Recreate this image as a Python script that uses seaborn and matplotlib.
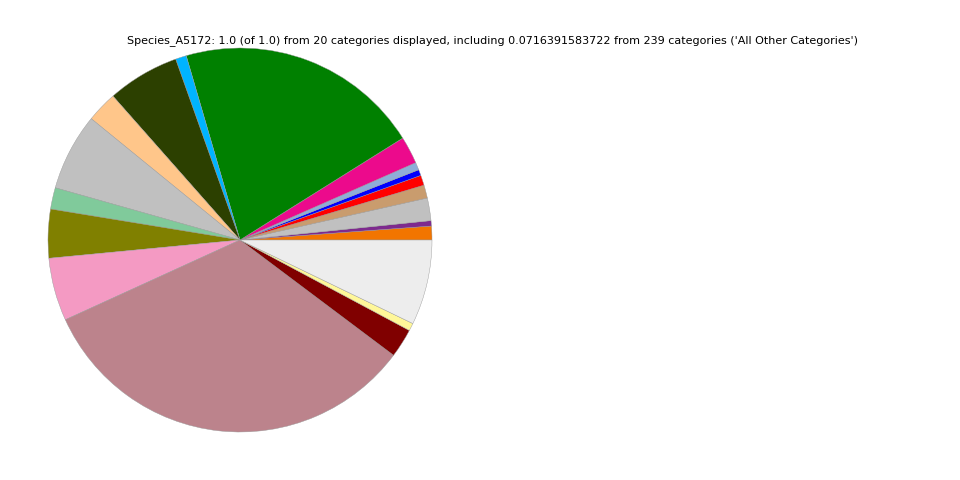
import matplotlib
matplotlib.use('Agg')
import matplotlib.pyplot as plt
import seaborn as sns

# slice values (fractions), counterclockwise from 3 o'clock
labels = ['cat_01', 'cat_02', 'cat_03', 'cat_04', 'cat_05', 'cat_06', 'cat_07',
          'cat_08', 'cat_09', 'cat_10', 'cat_11', 'cat_12', 'cat_13', 'cat_14',
          'cat_15', 'cat_16', 'cat_17', 'cat_18', 'cat_19', 'All Other Categories']
values = [0.0116, 0.0045, 0.0190, 0.0110, 0.0085, 0.0050, 0.0064,
          0.0230, 0.2061, 0.0092, 0.0607, 0.0260, 0.0650, 0.0180,
          0.0410, 0.0530, 0.3292, 0.0244, 0.0064, 0.0716391583722]
colors = ['#F27500', '#7E2A8E', '#C0C0C0', '#C99C6E', '#FF0000', '#0000FF', '#8FADD8',
          '#EC0A8C', '#008000', '#00B4FF', '#2C4000', '#FFC68A', '#C0C0C0', '#80CA9B',
          '#808000', '#F49AC3', '#BC838C', '#800000', '#FFF799', '#EDEDED']

title = ("Species_A5172: 1.0 (of 1.0) from 20 categories displayed, including "
         "0.0716391583722 from 239 categories ('All Other Categories')")

sns.set_theme(style='white')
plt.rcParams['font.family'] = ['DejaVu Sans']

fig = plt.figure(figsize=(9.6, 4.8), dpi=100)
ax = fig.add_axes([0.05, 0.1, 0.4, 0.8])

ax.pie(values, colors=sns.color_palette(colors), startangle=0, counterclock=True,
       wedgeprops=dict(edgecolor='#999999', linewidth=0.3))
ax.set_xlim(-1, 1)
ax.set_ylim(-1, 1)
ax.set_aspect('equal')
ax.axis('off')

fig.text(0.513, 0.915, title, ha='center', va='center', fontsize=8,
         color='black')

fig.savefig('out.png', dpi=100)
